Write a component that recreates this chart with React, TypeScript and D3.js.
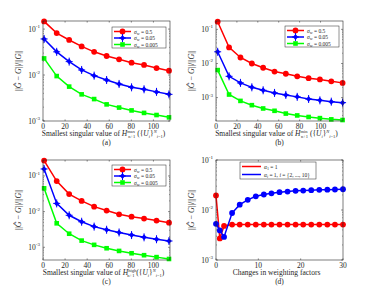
import { line, scaleLinear, scaleLog } from "d3";

// panel (a) / (c) share x positions, (b) has 12 points
const xAC = [1, 12.4, 23.7, 35, 46.3, 57.6, 68.9, 80.2, 91.5, 102.8, 114.1];
const xB = [1.6, 12.5, 23.4, 34.3, 45.1, 56, 66.8, 77.7, 88.6, 99.4, 110.3, 121.1];
const xD = [0, 0.9, 1.9, 3.8, 5.6, 7.5, 9.4, 11.3, 13.1, 15, 16.9, 18.8, 20.6, 22.5, 24.4, 26.3, 28.1, 30];

const aRed = [0.147, 0.082, 0.058, 0.042, 0.032, 0.026, 0.022, 0.0186, 0.0166, 0.0142, 0.0124];
const aBlue = [0.061, 0.032, 0.0196, 0.0129, 0.0097, 0.0078, 0.0064, 0.0054, 0.0049, 0.0043, 0.0038];
const aGreen = [0.023, 0.0095, 0.0056, 0.0038, 0.003, 0.0023, 0.00196, 0.0017, 0.0015, 0.00135, 0.0012];

const bRed = [0.168, 0.0296, 0.015, 0.01, 0.0075, 0.0058, 0.005, 0.0042, 0.0037, 0.0034, 0.003, 0.0027];
const bBlue = [0.022, 0.0042, 0.0027, 0.002, 0.00164, 0.00137, 0.0012, 0.00105, 0.00091, 0.00083, 0.00076, 0.00071];
const bGreen = [0.0064, 0.00123, 0.0008, 0.0006, 0.00048, 0.00041, 0.00034, 0.0003, 0.00027, 0.00025, 0.00023, 0.00022];

const cRed = [0.269, 0.072, 0.031, 0.02, 0.0138, 0.0107, 0.0084, 0.0072, 0.0064, 0.0056, 0.0049];
const cBlue = [0.157, 0.017, 0.0079, 0.0052, 0.0038, 0.0031, 0.0026, 0.0022, 0.0019, 0.00168, 0.0015];
const cGreen = [0.045, 0.0047, 0.0024, 0.00154, 0.00117, 0.00094, 0.00079, 0.00068, 0.0006, 0.00053, 0.00047];

const dRed = [0.0195, 0.0027, 0.0048, 0.0051, 0.0051, 0.0051, 0.0051, 0.0051, 0.0051, 0.0051, 0.0051, 0.0051, 0.0051, 0.0051, 0.0051, 0.0051, 0.0051, 0.0051];
const dBlue = [0.0053, 0.0039, 0.0029, 0.0087, 0.0128, 0.016, 0.0188, 0.0204, 0.0216, 0.0227, 0.0234, 0.0242, 0.0245, 0.0249, 0.0253, 0.0255, 0.0257, 0.026];

const sigmaLabels = ["0.5", "0.05", "0.005"];
const xTicksABC = [0, 20, 40, 60, 80, 100];
const xTicksD = [0, 10, 20, 30];
const yDecades = [-3, -2, -1];

const AX = "#262626";
const FONT = "'Liberation Serif', 'DejaVu Serif', serif";

type Marker = "o" | "d" | "s";
type Series = { xs: number[]; ys: number[]; color: string; marker: Marker };

function Mark({ m, x, y, color }: { m: Marker; x: number; y: number; color: string }) {
  if (m === "o") return <circle cx={x} cy={y} r={2.9} fill={color} />;
  if (m === "s") return <rect x={x - 2.3} y={y - 2.3} width={4.6} height={4.6} fill={color} />;
  return (
    <g>
      <path d={`M${x},${y - 3}L${x + 2.6},${y}L${x},${y + 3}L${x - 2.6},${y}Z`} fill={color} />
      <path d={`M${x},${y - 4}V${y + 4}M${x - 3.5},${y}H${x + 3.5}`} stroke={color} strokeWidth={1} />
    </g>
  );
}

function Panel(props: {
  left: number; top: number; w: number; h: number;
  xDomain: [number, number]; xTicks: number[]; yDomain: [number, number];
  series: Series[]; legend: any; xlabel: any; caption: string;
}) {
  const { left, top, w, h, xDomain, xTicks, yDomain, series } = props;
  const x = scaleLinear().domain(xDomain).range([left, left + w]);
  const y = scaleLog().domain(yDomain).range([top + h, top]);
  const minor: number[] = [];
  for (let e = -5; e <= 0; e++) for (let k = 2; k <= 9; k++) {
    const v = k * Math.pow(10, e);
    if (v > yDomain[0] && v < yDomain[1]) minor.push(v);
  }
  const major = yDecades.map((e) => Math.pow(10, e)).filter((v) => v >= yDomain[0] * 0.999 && v <= yDomain[1] * 1.001);
  const cx = left + w / 2;
  const bottom = top + h;
  return (
    <g fontFamily={FONT}>
      <rect x={left} y={top} width={w} height={h} fill="#fff" />
      {series.map((s, i) => {
        const pts: [number, number][] = s.xs.map((v, j) => [x(v), y(s.ys[j])]);
        return (
          <g key={i}>
            <path d={line()(pts) || ""} fill="none" stroke={s.color} strokeWidth={1.5} />
            {pts.map((p, j) => <Mark key={j} m={s.marker} x={p[0]} y={p[1]} color={s.color} />)}
          </g>
        );
      })}
      <rect x={left} y={top} width={w} height={h} fill="none" stroke={AX} strokeWidth={0.6} />
      {xTicks.map((t) => (
        <g key={t}>
          <line x1={x(t)} x2={x(t)} y1={bottom} y2={bottom - 1.6} stroke={AX} strokeWidth={0.5} />
          <line x1={x(t)} x2={x(t)} y1={top} y2={top + 1.6} stroke={AX} strokeWidth={0.5} />
          <text x={x(t)} y={bottom + 7.5} fontSize={7.5} textAnchor="middle" fill={AX}>{t}</text>
        </g>
      ))}
      {minor.map((v, i) => (
        <g key={i}>
          <line x1={left} x2={left + 1} y1={y(v)} y2={y(v)} stroke={AX} strokeWidth={0.4} />
          <line x1={left + w} x2={left + w - 1} y1={y(v)} y2={y(v)} stroke={AX} strokeWidth={0.4} />
        </g>
      ))}
      {major.map((v, i) => (
        <g key={i}>
          <line x1={left} x2={left + 2} y1={y(v)} y2={y(v)} stroke={AX} strokeWidth={0.5} />
          <line x1={left + w} x2={left + w - 2} y1={y(v)} y2={y(v)} stroke={AX} strokeWidth={0.5} />
          <text x={left - 3} y={y(v) + 2.5} fontSize={7.5} textAnchor="end" fill={AX}>
            10<tspan fontSize={5} dy={-3.5}>{Math.round(Math.log10(v))}</tspan>
          </text>
        </g>
      ))}
      <text transform={`translate(${left - 22},${top + h / 2}) rotate(-90)`} fontSize={8} textAnchor="middle" fill={AX}>
        ||<tspan fontStyle="italic">Ĝ</tspan> − <tspan fontStyle="italic">G</tspan>||/||<tspan fontStyle="italic">G</tspan>||
      </text>
      <text x={cx - 3} y={bottom + 15} fontSize={7.5} textAnchor="middle" fill={AX}>{props.xlabel}</text>
      <text x={cx} y={bottom + 24} fontSize={7.5} textAnchor="middle" fill={AX}>{props.caption}</text>
      {props.legend}
    </g>
  );
}

function SigmaLegend({ x0, y0 }: { x0: number; y0: number }) {
  const cols = ["#ff0000", "#0000ff", "#00ff00"];
  const ms: Marker[] = ["o", "d", "s"];
  return (
    <g fontFamily={FONT}>
      <rect x={x0} y={y0} width={54} height={21} fill="#fff" stroke={AX} strokeWidth={0.5} />
      {sigmaLabels.map((s, i) => {
        const yy = y0 + 4.5 + i * 6.5;
        return (
          <g key={s}>
            <line x1={x0 + 2} x2={x0 + 19} y1={yy} y2={yy} stroke={cols[i]} strokeWidth={1.5} />
            <Mark m={ms[i]} x={x0 + 10.5} y={yy} color={cols[i]} />
            <text x={x0 + 22} y={yy + 2} fontSize={5.5} fill={AX}>
              <tspan fontStyle="italic">σ</tspan><tspan fontSize={4} dy={1.2}>w</tspan><tspan dy={-1.2}> = {s}</tspan>
            </text>
          </g>
        );
      })}
    </g>
  );
}

function AlphaLegend({ x0, y0 }: { x0: number; y0: number }) {
  return (
    <g fontFamily={FONT}>
      <rect x={x0} y={y0} width={76} height={17} fill="#fff" stroke={AX} strokeWidth={0.5} />
      <line x1={x0 + 2} x2={x0 + 21} y1={y0 + 4.5} y2={y0 + 4.5} stroke="#ff0000" strokeWidth={1.5} />
      <text x={x0 + 24} y={y0 + 6.5} fontSize={5.5} fill={AX}>
        <tspan fontStyle="italic">α</tspan><tspan fontSize={4} dy={1.2}>1</tspan><tspan dy={-1.2}> = 1</tspan>
      </text>
      <line x1={x0 + 2} x2={x0 + 21} y1={y0 + 12.5} y2={y0 + 12.5} stroke="#0000ff" strokeWidth={1.5} />
      <text x={x0 + 24} y={y0 + 14.5} fontSize={5.5} fill={AX}>
        <tspan fontStyle="italic">α</tspan><tspan fontSize={4} dy={1.2} fontStyle="italic">i</tspan><tspan dy={-1.2}> = 1, </tspan>
        <tspan fontStyle="italic">i</tspan> = {"{"}2, ..., 10{"}"}
      </text>
    </g>
  );
}

function HLabel({ sup }: { sup: string }) {
  return (
    <>
      Smallest singular value of <tspan fontStyle="italic">H</tspan>
      <tspan fontSize={4.5} dy={-3}>{sup}</tspan>
      <tspan fontSize={4.5} dx={-sup.length * 2.2} dy={5}>n+1</tspan>
      <tspan dy={-2}> ({"{"}</tspan><tspan fontStyle="italic">U</tspan>
      <tspan fontSize={4.5} dy={1.5} fontStyle="italic">i</tspan>
      <tspan dy={-1.5}>{"}"}</tspan>
      <tspan fontSize={4.5} dy={-3} fontStyle="italic">N</tspan>
      <tspan fontSize={4.5} dy={5}><tspan fontStyle="italic">i</tspan>=1</tspan>
      <tspan dy={-2}>)</tspan>
    </>
  );
}

export default function App() {
  const red = "#ff0000", blue = "#0000ff", green = "#00ff00";
  return (
    <svg width={379} height={294} style={{ position: "absolute", left: 0, top: 0, background: "#fff" }}>
      <Panel left={43} top={21} w={127} h={100} xDomain={[0, 115]} xTicks={xTicksABC} yDomain={[1e-3, 0.15]}
        series={[
          { xs: xAC, ys: aRed, color: red, marker: "o" },
          { xs: xAC, ys: aBlue, color: blue, marker: "d" },
          { xs: xAC, ys: aGreen, color: green, marker: "s" },
        ]}
        legend={<SigmaLegend x0={112} y0={27} />} xlabel={<HLabel sup="max" />} caption="(a)" />
      <Panel left={216} top={21} w={127} h={100} xDomain={[0, 121.5]} xTicks={xTicksABC} yDomain={[2.06e-4, 0.176]}
        series={[
          { xs: xB, ys: bRed, color: red, marker: "o" },
          { xs: xB, ys: bBlue, color: blue, marker: "d" },
          { xs: xB, ys: bGreen, color: green, marker: "s" },
        ]}
        legend={<SigmaLegend x0={285} y0={26} />} xlabel={<HLabel sup="min" />} caption="(b)" />
      <Panel left={43} top={160} w={127} h={100} xDomain={[0, 115]} xTicks={xTicksABC} yDomain={[4.4e-4, 0.28]}
        series={[
          { xs: xAC, ys: cRed, color: red, marker: "o" },
          { xs: xAC, ys: cBlue, color: blue, marker: "d" },
          { xs: xAC, ys: cGreen, color: green, marker: "s" },
        ]}
        legend={<SigmaLegend x0={112} y0={165} />} xlabel={<HLabel sup="high" />} caption="(c)" />
      <Panel left={216} top={160} w={127} h={100} xDomain={[0, 30]} xTicks={xTicksD} yDomain={[1e-3, 1e-1]}
        series={[
          { xs: xD, ys: dRed, color: red, marker: "o" },
          { xs: xD, ys: dBlue, color: blue, marker: "o" },
        ]}
        legend={<AlphaLegend x0={240} y0={162} />} xlabel="Changes in weighting factors" caption="(d)" />
    </svg>
  );
}
